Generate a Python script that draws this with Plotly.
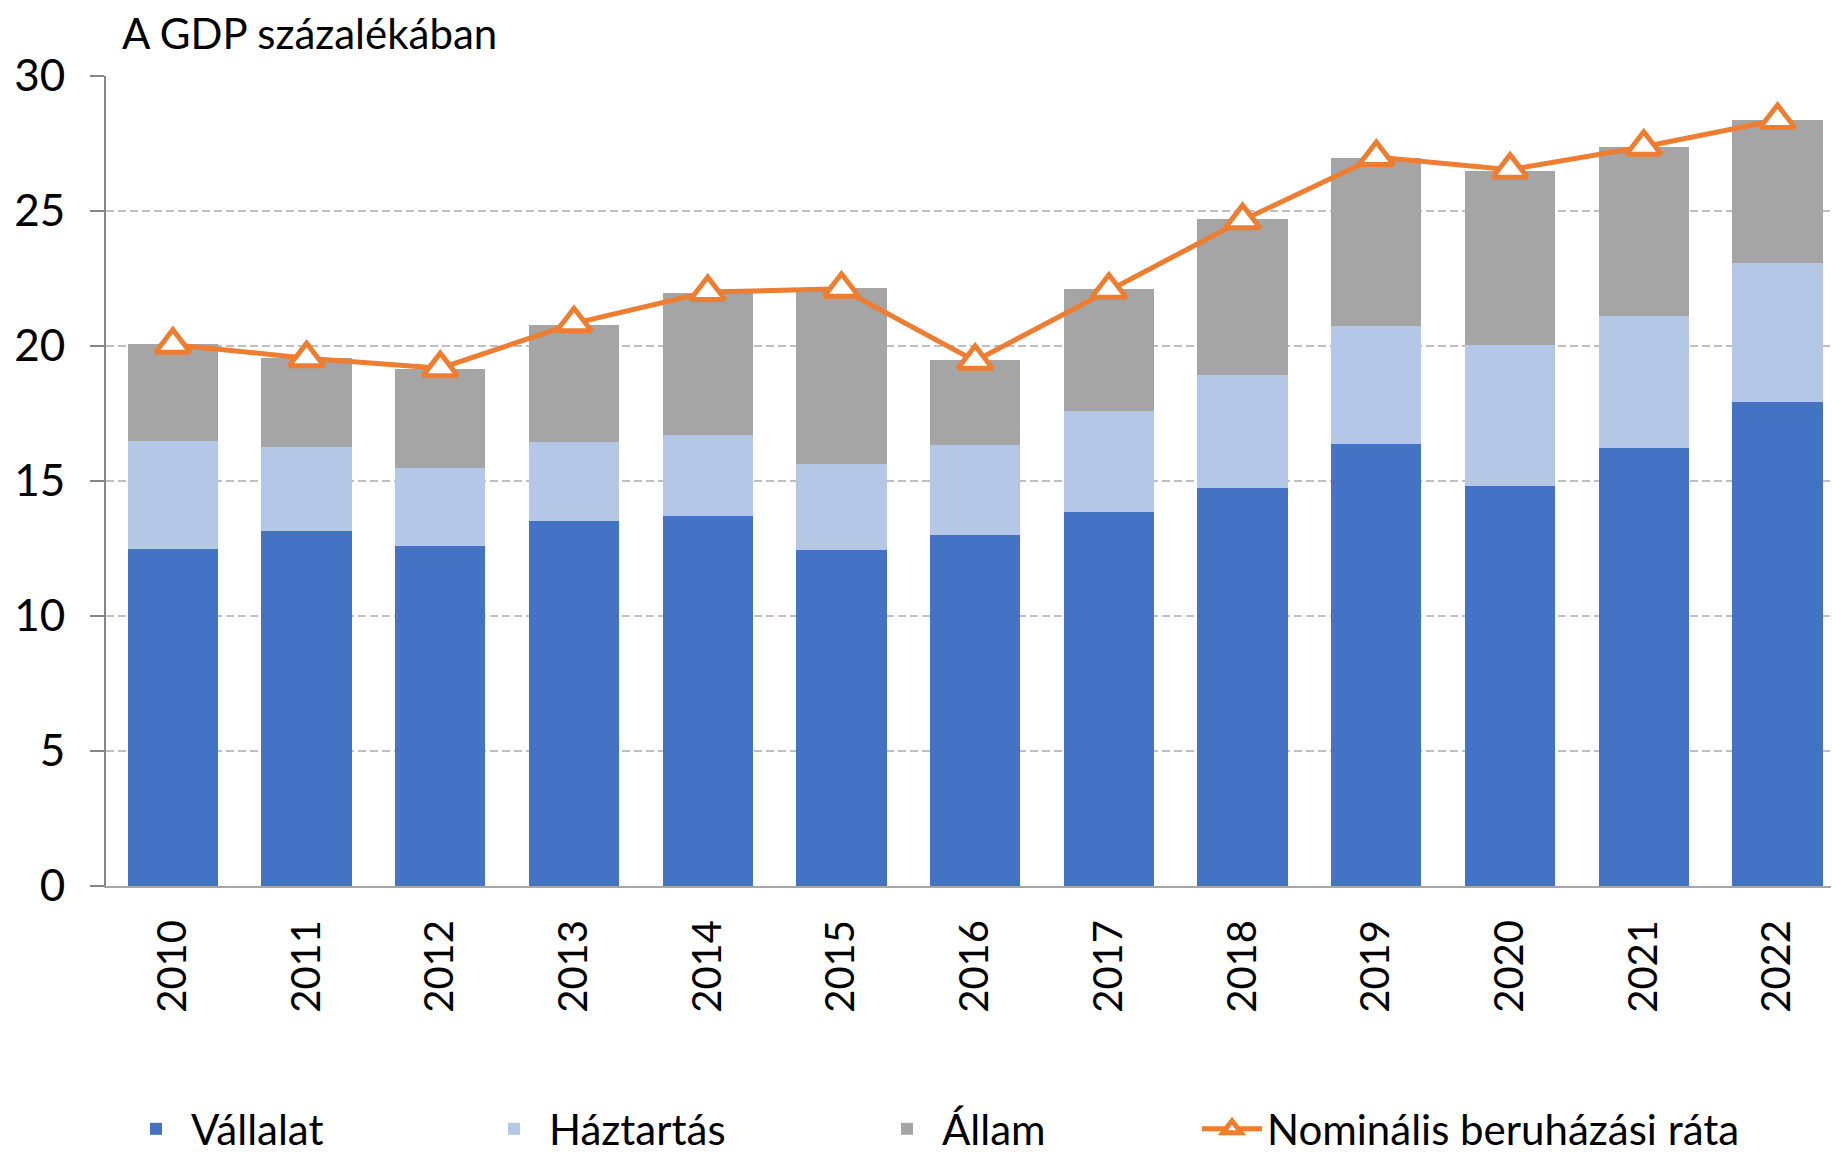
import plotly.graph_objects as go

years = ["2010", "2011", "2012", "2013", "2014", "2015", "2016",
         "2017", "2018", "2019", "2020", "2021", "2022"]
vallalat = [12.47, 13.13, 12.58, 13.52, 13.71, 12.45, 12.99,
            13.85, 14.75, 16.38, 14.83, 16.22, 17.94]
haztartas = [4.00, 3.13, 2.90, 2.93, 2.98, 3.19, 3.34,
             3.75, 4.17, 4.35, 5.19, 4.88, 5.15]
allam = [3.60, 3.30, 3.68, 4.32, 5.29, 6.50, 3.14,
         4.52, 5.80, 6.25, 6.48, 6.28, 5.28]
rata = [20.05, 19.55, 19.18, 20.84, 22.0, 22.12, 19.45,
        22.08, 24.66, 27.0, 26.53, 27.38, 28.37]

FONT = "Lato"
W, H = 1831, 1148  # page body has an 8px margin
LEG_Y = 1 - 1121 / H

fig = go.Figure()
fig.add_trace(go.Bar(x=years, y=vallalat, name="Vállalat", legend="legend",
                     showlegend=True,
                     marker=dict(color="#4472C4", line=dict(width=0))))
fig.add_trace(go.Bar(x=years, y=haztartas, name="Háztartás", legend="legend2",
                     showlegend=True,
                     marker=dict(color="#B4C7E7", line=dict(width=0))))
fig.add_trace(go.Bar(x=years, y=allam, name="Állam", legend="legend3",
                     showlegend=True,
                     marker=dict(color="#A5A5A5", line=dict(width=0))))
fig.add_trace(go.Scatter(x=years, y=rata, name="Nominális beruházási ráta",
                         legend="legend4", showlegend=True,
                         mode="lines+markers",
                         line=dict(color="#ED7D31", width=5),
                         marker=dict(symbol="triangle-up", size=30,
                                     color="white",
                                     line=dict(color="#ED7D31", width=5))))


def leg(xpx):
    return dict(orientation="h", xref="container", yref="container",
                x=xpx / W, xanchor="left", y=LEG_Y, yanchor="middle",
                font=dict(family=FONT, size=42, color="black"),
                itemwidth=60, bgcolor="rgba(0,0,0,0)")


fig.update_layout(
    width=W, height=H, showlegend=True,
    barmode="stack", bargap=0.325,
    plot_bgcolor="white", paper_bgcolor="white",
    margin=dict(l=98, r=0, t=68, b=270),
    font=dict(family=FONT, size=40, color="black"),
    title=dict(text="A GDP százalékában", x=114 / W, xanchor="left",
               xref="container", yref="container", y=1 - 26 / H,
               yanchor="middle", font=dict(family=FONT, size=42, color="black")),
    legend=leg(113), legend2=leg(471), legend3=leg(864), legend4=leg(1189),
    xaxis=dict(type="category", range=[-0.5, 12.46], tickangle=-90,
               showline=True, linecolor="#A6A6A6", linewidth=2,
               ticks="", ticklabelstandoff=16,
               tickfont=dict(family=FONT, size=40, color="black")),
    yaxis=dict(range=[0, 30], dtick=5, showgrid=True, gridcolor="#BFBFBF",
               griddash="8px,4px", gridwidth=1.5, zeroline=False,
               showline=True, linecolor="#868686", linewidth=2,
               ticks="outside", ticklen=14, tickcolor="#868686", tickwidth=2,
               ticklabelstandoff=16,
               tickfont=dict(family=FONT, size=44, color="black")),
)

fig.write_html("out.html")
